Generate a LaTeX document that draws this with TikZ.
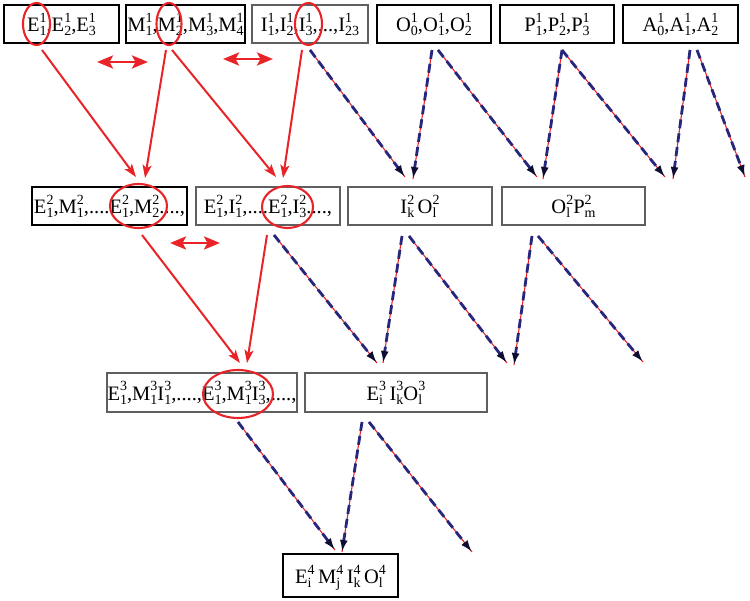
\documentclass[tikz,border=0pt]{standalone}
\usepackage{fontspec}
\setmainfont{Liberation Serif}
\usetikzlibrary{arrows.meta,shapes.geometric}
\definecolor{rd}{RGB}{232,36,40}
\definecolor{nv}{RGB}{38,38,125}
\definecolor{tipc}{RGB}{14,14,50}
\definecolor{gb}{RGB}{95,95,95}
\newcommand\ix[2]{\begingroup\fontsize{14}{14}\selectfont
\setbox0\hbox{#1}\setbox2\hbox{#2}%
\dimen0=\wd0 \ifdim\wd2>\dimen0 \dimen0=\wd2\fi
\makebox[\dimen0][l]{\rlap{\raisebox{9.5pt}{\box0}}\raisebox{-4pt}{\box2}}\endgroup}
\begin{document}
\begin{tikzpicture}[x=1pt,y=-1pt,
  box/.style={draw=black, line width=1.6pt, minimum height=38pt, inner xsep=0pt, inner ysep=0pt,
    text height=20pt, text depth=4pt, font=\fontsize{20.5}{24}\selectfont},
  gbox/.style={box, draw=gb, line width=1.2pt},
  ring/.style={draw=rd, line width=2.1pt, ellipse, inner sep=0pt},
  rarr/.style={draw=rd, line width=2pt, -{Stealth[length=13pt,width=9pt,inset=3pt]}},
  darr/.style={draw=nv, line width=2.8pt, dash pattern=on 9pt off 5pt,
    -{Latex[length=12pt,width=8pt,color=tipc]},
    preaction={draw=rd, line width=1.1pt, solid, arrows=-}},
  dbl/.style={draw=rd, line width=2.8pt,
    {Stealth[length=16pt,width=13pt,inset=3.5pt]}-{Stealth[length=16pt,width=13pt,inset=3.5pt]}}]
\useasboundingbox (0,0) rectangle (750,601);
% row 1
\node[box,  minimum width=115pt] (e1) at (61.5,24) {E\ix11,E\ix12,E\ix13};
\node[box,  minimum width=119pt] (m1) at (185.5,24) {M\ix11,M\ix12,M\ix13,M\ix14};
\node[gbox, minimum width=116pt] (i1) at (310,24) {I\ix11,I\ix12,I\ix13,...,I\ix1{23}};
\node[box,  minimum width=114pt] (o1) at (434,24) {O\ix10,O\ix11,O\ix12};
\node[box,  minimum width=114pt] (p1) at (557,24) {P\ix11,P\ix12,P\ix13};
\node[box,  minimum width=115pt] (a1) at (680.5,24) {A\ix10,A\ix11,A\ix12};
% row 2
\node[box,  minimum width=155pt] (e2) at (109.5,206) {E\ix21,M\ix21,....E\ix21,M\ix22....,};
\node[gbox, minimum width=144pt] (ei2) at (268,206) {E\ix21,I\ix21,....E\ix21,I\ix23....,};
\node[gbox, minimum width=144pt] (io2) at (420,206) {I\ix2k\,O\ix2l};
\node[gbox, minimum width=143pt] (op2) at (573.5,206) {O\ix2lP\ix2m};
% row 3
\node[gbox, minimum width=190pt, minimum height=39pt] (r3a) at (202,392.5) {E\ix31,M\ix31I\ix31,....,E\ix31,M\ix31I\ix33,....,};
\node[gbox, minimum width=182pt, minimum height=39pt] (r3b) at (396,392.5) {E\ix3i\,I\ix3kO\ix3l};
% row 4
\node[box, minimum width=115pt, minimum height=43pt] (r4) at (340.5,575.5) {E\ix4i\,M\ix4j\,I\ix4k\,O\ix4l};
% rings
\node[ring, minimum width=27pt, minimum height=42pt] (c1) at (36.5,24) {};
\node[ring, minimum width=25pt, minimum height=42pt] (c2) at (169,24) {};
\node[ring, minimum width=27pt, minimum height=42pt] (c3) at (308.5,24) {};
\node[ring, minimum width=57pt, minimum height=44pt] (c4) at (138.5,206) {};
\node[ring, minimum width=51pt, minimum height=42pt] (c5) at (287.5,207) {};
\node[ring, minimum width=70pt, minimum height=48pt] (c6) at (238,394) {};
% double arrows
\draw[dbl] (97,62) coordinate (b1l) -- (148,62) coordinate (b1r);
\draw[dbl] (223,59) coordinate (b2l) -- (273,59) coordinate (b2r);
\draw[dbl] (170,243) coordinate (b3l) -- (220,243) coordinate (b3r);
% red arrows
\draw[rarr] (42,50) coordinate (r1s) -- (136,177) coordinate (r1e);
\draw[rarr] (166,50) coordinate (r2s) -- (145,178) coordinate (r2e);
\draw[rarr] (172,50) coordinate (r3s) -- (276,177) coordinate (r3e);
\draw[rarr] (302,50) coordinate (r4s) -- (283,178) coordinate (r4e);
\draw[rarr] (142,235) coordinate (r5s) -- (240,363) coordinate (r5e);
\draw[rarr] (267,235) coordinate (r6s) -- (247,363) coordinate (r6e);
% dashed arrows
\draw[darr] (310,50) coordinate (d1s) -- (405,177) coordinate (d1e);
\draw[darr] (432,50) coordinate (d2s) -- (413,179) coordinate (d2e);
\draw[darr] (438,50) coordinate (d3s) -- (537,177) coordinate (d3e);
\draw[darr] (562,50) coordinate (d4s) -- (543,179) coordinate (d4e);
\draw[darr] (d4s) -- (665,177) coordinate (d5e);
\draw[darr] (690,50) coordinate (d6s) -- (673,179) coordinate (d6e);
\draw[darr] (697,50) coordinate (d7s) -- (745,177) coordinate (d7e);
\draw[darr] (274,235) coordinate (d8s) -- (377,363) coordinate (d8e);
\draw[darr] (402,236) coordinate (d9s) -- (383,363) coordinate (d9e);
\draw[darr] (409,236) coordinate (d10s) -- (507,363) coordinate (d10e);
\draw[darr] (532,236) coordinate (d11s) -- (514,365) coordinate (d11e);
\draw[darr] (538,236) coordinate (d12s) -- (643,362) coordinate (d12e);
\draw[darr] (238,422) coordinate (d13s) -- (335,550) coordinate (d13e);
\draw[darr] (362,422) coordinate (d14s) -- (342,552) coordinate (d14e);
\draw[darr] (369,422) coordinate (d15s) -- (472,552) coordinate (d15e);
\end{tikzpicture}
\end{document}
